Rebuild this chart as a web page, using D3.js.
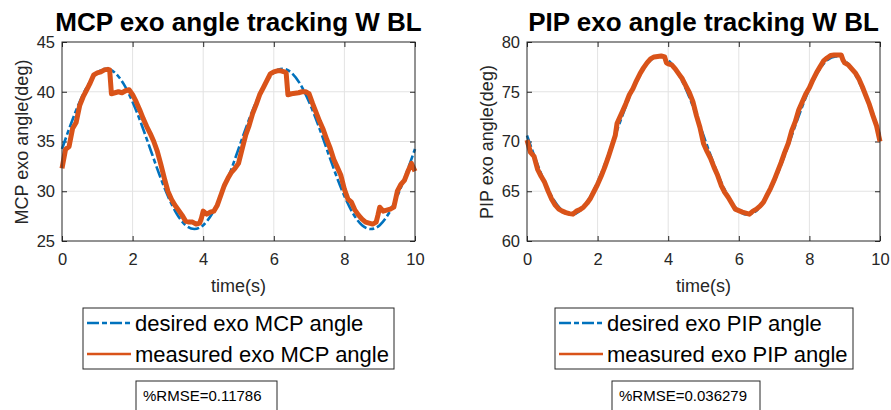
<!DOCTYPE html>
<meta charset="utf-8">
<title>exo angle tracking</title>
<style>
body { margin: 0; background: #fff; }
svg text { font-family: "Liberation Sans", Arial, sans-serif; }
.tick line { stroke: #262626; }
.tick text { fill: #262626; font-size: 16.5px; }
.domain { display: none; }
</style>
<svg width="891" height="410"></svg>
<script src="https://d3js.org/d3.v7.min.js"></script>
<script>

// time ticks, shared by both panels
var timeTicks = [0, 2, 4, 6, 8, 10];

// desired trajectories, sampled every 0.25 s
var desiredT = [0, 0.25, 0.5, 0.75, 1, 1.25, 1.5, 1.75, 2, 2.25, 2.5, 2.75, 3, 3.25, 3.5, 3.75, 4, 4.25, 4.5, 4.75,
  5, 5.25, 5.5, 5.75, 6, 6.25, 6.5, 6.75, 7, 7.25, 7.5, 7.75, 8, 8.25, 8.5, 8.75, 9, 9.25, 9.5, 9.75, 10];

var mcpDesired = [34.25, 36.74, 38.98, 40.76, 41.91, 42.30, 41.91, 40.76, 38.98, 36.74, 34.25, 31.76, 29.52, 27.74, 26.59, 26.20, 26.59, 27.74, 29.52, 31.76,
  34.25, 36.74, 38.98, 40.76, 41.91, 42.30, 41.91, 40.76, 38.98, 36.74, 34.25, 31.76, 29.52, 27.74, 26.59, 26.20, 26.59, 27.74, 29.52, 31.76, 34.25];

var pipDesired = [70.60, 68.14, 65.92, 64.17, 63.04, 62.65, 63.04, 64.17, 65.92, 68.14, 70.60, 73.06, 75.28, 77.03, 78.16, 78.55, 78.16, 77.03, 75.28, 73.06,
  70.60, 68.14, 65.92, 64.17, 63.04, 62.65, 63.04, 64.17, 65.92, 68.14, 70.60, 73.06, 75.28, 77.03, 78.16, 78.55, 78.16, 77.03, 75.28, 73.06, 70.60];

// measured MCP
var mcpT = [0, 0.1, 0.2, 0.3, 0.4, 0.5, 0.6, 0.7, 0.8, 0.9, 1, 1.1, 1.2, 1.3, 1.35, 1.4, 1.5, 1.6, 1.7, 1.8, 1.9,
  2, 2.1, 2.2, 2.3, 2.4, 2.5, 2.6, 2.7, 2.8, 2.9, 3, 3.1, 3.2, 3.3, 3.4, 3.5, 3.6, 3.7, 3.8, 3.9, 3.95,
  4, 4.1, 4.2, 4.3, 4.4, 4.5, 4.6, 4.7, 4.8, 4.9, 5, 5.1, 5.2, 5.3, 5.4, 5.5, 5.6, 5.7, 5.8, 5.9,
  6, 6.1, 6.2, 6.3, 6.35, 6.4, 6.5, 6.6, 6.7, 6.8, 6.9, 7, 7.1, 7.2, 7.3, 7.4, 7.5, 7.6, 7.7, 7.8, 7.9,
  8, 8.1, 8.2, 8.3, 8.4, 8.5, 8.6, 8.7, 8.8, 8.9, 8.95, 9, 9.1, 9.2, 9.3, 9.4, 9.5, 9.6, 9.7, 9.8, 9.9, 10];
var mcpMeasured = [32.3, 34.2, 34.5, 36.3, 36.9, 38.6, 39.5, 40.2, 40.9, 41.7, 41.9, 42.0, 42.2, 42.25, 42.2, 39.8, 39.9, 40.0, 39.9, 40.1, 40.2,
  39.7, 39.0, 38.2, 37.3, 36.5, 35.8, 35.0, 34.0, 32.7, 31.3, 30.0, 29.2, 28.6, 28.1, 27.6, 27.0, 26.9, 26.9, 26.7, 26.8, 27.3,
  28.0, 27.7, 27.9, 28.0, 28.6, 29.6, 30.6, 31.3, 31.9, 32.3, 32.8, 34.2, 35.6, 36.6, 37.8, 38.7, 39.7, 40.4, 41.1, 41.8,
  42.0, 42.1, 42.1, 42.0, 41.9, 39.7, 39.8, 39.85, 39.9, 40.0, 40.0, 39.8, 38.8, 37.9, 37.0, 36.2, 35.2, 34.3, 33.2, 32.4, 31.6,
  30.2, 29.2, 28.9, 28.1, 27.6, 27.2, 26.9, 26.8, 26.7, 26.9, 27.6, 28.4, 28.0, 28.1, 28.2, 28.4, 30.0, 30.7, 31.1, 32.0, 32.8, 32.0];

// measured PIP
var pipT = [0, 0.1, 0.2, 0.3, 0.4, 0.5, 0.6, 0.7, 0.8, 0.9, 1, 1.1, 1.2, 1.3, 1.4, 1.5, 1.6, 1.7, 1.8, 1.9,
  2, 2.1, 2.2, 2.3, 2.4, 2.5, 2.55, 2.6, 2.7, 2.8, 2.9, 3, 3.1, 3.2, 3.3, 3.4, 3.5, 3.6, 3.7, 3.8, 3.9, 3.95,
  4, 4.1, 4.2, 4.3, 4.4, 4.5, 4.6, 4.7, 4.8, 4.9, 5, 5.1, 5.2, 5.3, 5.4, 5.5, 5.6, 5.7, 5.8, 5.9,
  6, 6.1, 6.2, 6.3, 6.4, 6.5, 6.6, 6.7, 6.8, 6.9, 7, 7.1, 7.2, 7.3, 7.4, 7.5, 7.6, 7.7, 7.8, 7.9,
  8, 8.1, 8.2, 8.3, 8.4, 8.5, 8.6, 8.7, 8.8, 8.9, 8.95, 9, 9.1, 9.2, 9.3, 9.4, 9.5, 9.6, 9.7, 9.8, 9.9, 10];
var pipMeasured = [70.15, 68.9, 68.5, 67.2, 66.5, 65.9, 65.0, 64.2, 63.6, 63.2, 63.0, 62.85, 62.75, 62.7, 63.0, 63.15, 63.4, 63.8, 64.3, 65.0,
  65.7, 66.5, 67.4, 68.4, 69.5, 70.6, 71.8, 72.2, 73.0, 73.8, 74.7, 75.3, 76.1, 76.8, 77.4, 77.9, 78.3, 78.5, 78.55, 78.6, 78.5, 77.9,
  77.8, 77.7, 77.3, 76.8, 76.3, 75.6, 74.9, 74.0, 72.6, 71.4, 69.8, 69.0, 68.3, 67.4, 66.6, 65.6, 64.9, 64.4, 63.8, 63.2,
  63.05, 62.9, 62.8, 62.7, 63.0, 63.2, 63.5, 63.9, 64.6, 65.3, 66.1, 67.0, 67.9, 68.9, 69.8, 71.1, 72.0, 73.2, 74.0, 74.8,
  75.4, 76.2, 76.9, 77.5, 78.1, 78.4, 78.65, 78.7, 78.7, 78.7, 78.2, 77.9, 77.7, 77.3, 76.9, 76.3, 75.5, 74.6, 73.7, 72.6, 71.6, 70.0];

var mcpTicks = [25, 30, 35, 40, 45];
var pipTicks = [60, 65, 70, 75, 80];

var blue = "#0072BD", orange = "#D95319";

var svg = d3.select("svg");

function panel(o) {
  var x = d3.scaleLinear().domain([0, 10]).range([o.left, o.left + 353]);
  var y = d3.scaleLinear().domain(o.ydomain).range([241, 42]);

  // grid
  var grid = svg.append("g").attr("stroke", "#e3e3e3").attr("stroke-width", 1);
  grid.selectAll(".gx").data(timeTicks.slice(1, -1)).enter().append("line")
      .attr("x1", function(d) { return x(d); }).attr("x2", function(d) { return x(d); })
      .attr("y1", 42).attr("y2", 241);
  grid.selectAll(".gy").data(o.yticks.slice(1, -1)).enter().append("line")
      .attr("y1", function(d) { return y(d); }).attr("y2", function(d) { return y(d); })
      .attr("x1", x(0)).attr("x2", x(10));

  // axes, ticks pointing in
  svg.append("g").attr("transform", "translate(0,241)")
      .call(d3.axisBottom(x).tickValues(timeTicks).tickSize(-5).tickPadding(12));
  svg.append("g").attr("transform", "translate(0,42)")
      .call(d3.axisTop(x).tickValues(timeTicks).tickSize(-5).tickFormat(""));
  svg.append("g").attr("transform", "translate(" + x(0) + ",0)")
      .call(d3.axisLeft(y).tickValues(o.yticks).tickSize(-5).tickPadding(7));
  svg.append("g").attr("transform", "translate(" + x(10) + ",0)")
      .call(d3.axisRight(y).tickValues(o.yticks).tickSize(-5).tickFormat(""));

  // lines
  var line = d3.line().curve(d3.curveNatural)
      .x(function(d) { return x(d[0]); })
      .y(function(d) { return y(d[1]); });
  var rough = d3.line()
      .x(function(d) { return x(d[0]); })
      .y(function(d) { return y(d[1]); });

  svg.append("path")
      .datum(d3.zip(desiredT, o.desired))
      .attr("d", line)
      .attr("fill", "none").attr("stroke", blue).attr("stroke-width", 2.6)
      .attr("stroke-dasharray", "12,3,5,3");
  svg.append("path")
      .datum(d3.zip(o.mt, o.measured))
      .attr("d", rough)
      .attr("fill", "none").attr("stroke", orange).attr("stroke-width", 5)
      .attr("stroke-linejoin", "round");

  // box
  svg.append("rect").attr("x", x(0)).attr("y", 42).attr("width", 353).attr("height", 199)
      .attr("fill", "none").attr("stroke", "#262626").attr("stroke-width", 1);

  // titles and labels
  svg.append("text").attr("x", (x(0) + x(10)) / 2).attr("y", 31)
      .attr("text-anchor", "middle").attr("font-size", "26px").attr("font-weight", "bold")
      .attr("fill", "#000").text(o.title);
  svg.append("text").attr("x", (x(0) + x(10)) / 2).attr("y", 292)
      .attr("text-anchor", "middle").attr("font-size", "18px").attr("fill", "#262626")
      .text("time(s)");
  svg.append("text").attr("transform", "translate(" + o.ylabelX + ",142) rotate(-90)")
      .attr("text-anchor", "middle").attr("font-size", "18px").attr("fill", "#262626")
      .text(o.ylabel);

  // legend
  var lg = svg.append("g");
  lg.append("rect").attr("x", o.legX).attr("y", 308).attr("width", o.legW).attr("height", 61)
      .attr("fill", "#fff").attr("stroke", "#262626").attr("stroke-width", 1);
  lg.append("line").attr("x1", o.legX + 4).attr("x2", o.legX + 48).attr("y1", 323).attr("y2", 323)
      .attr("stroke", blue).attr("stroke-width", 2.6).attr("stroke-dasharray", "12,3,5,3");
  lg.append("line").attr("x1", o.legX + 4).attr("x2", o.legX + 48).attr("y1", 354).attr("y2", 354)
      .attr("stroke", orange).attr("stroke-width", 2.6);
  lg.append("text").attr("x", o.legX + 52).attr("y", 331).attr("font-size", "22px").attr("fill", "#000")
      .text(o.legend[0]);
  lg.append("text").attr("x", o.legX + 52).attr("y", 362).attr("font-size", "22px").attr("fill", "#000")
      .text(o.legend[1]);

  // RMSE annotation
  svg.append("rect").attr("x", o.rmseX).attr("y", 381).attr("width", o.rmseW).attr("height", 40)
      .attr("fill", "#fff").attr("stroke", "#262626").attr("stroke-width", 1);
  svg.append("text").attr("x", o.rmseX + 7).attr("y", 401).attr("font-size", "15px").attr("fill", "#000")
      .text(o.rmse);
}

panel({
  left: 62, ydomain: [25, 45], yticks: mcpTicks,
  desired: mcpDesired, mt: mcpT, measured: mcpMeasured,
  title: "MCP exo angle tracking W BL", ylabel: "MCP exo angle(deg)", ylabelX: 28,
  legX: 83, legW: 311, legend: ["desired exo MCP angle", "measured exo MCP angle"],
  rmseX: 136, rmseW: 141, rmse: "%RMSE=0.11786"
});

panel({
  left: 527, ydomain: [60, 80], yticks: pipTicks,
  desired: pipDesired, mt: pipT, measured: pipMeasured,
  title: "PIP exo angle tracking W BL", ylabel: "PIP exo angle(deg)", ylabelX: 493,
  legX: 555, legW: 298, legend: ["desired exo PIP angle", "measured exo PIP angle"],
  rmseX: 612, rmseW: 148, rmse: "%RMSE=0.036279"
});

</script>
